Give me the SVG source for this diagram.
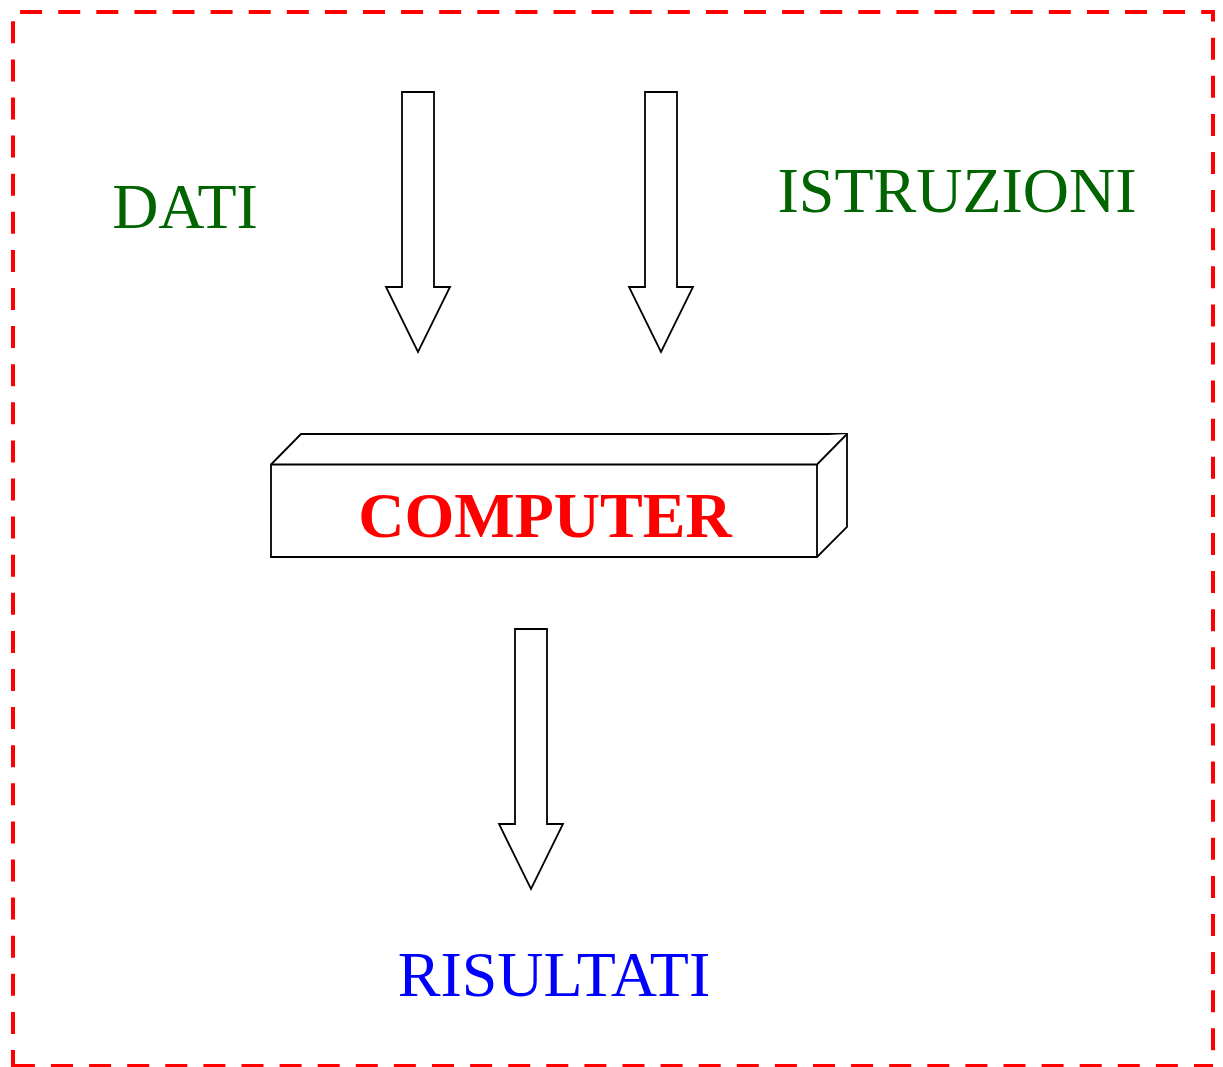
<svg xmlns="http://www.w3.org/2000/svg" width="1223" height="1067" viewBox="0 0 1223 1067">
  <style>
    .frame { stroke: #ff0000; stroke-width: 4; fill: none; stroke-dasharray: 22 16.1; }
    .outline { fill: #ffffff; stroke: #000000; stroke-width: 1.8; stroke-linejoin: miter; }
    .label { font-family: "Liberation Serif", "Times New Roman", serif; font-size: 64px; text-anchor: middle; }
    .input { fill: #006400; }
    .output { fill: #0000ff; }
    .core { fill: #ff0000; font-weight: bold; font-size: 64px; }
  </style>
  <rect width="1223" height="1067" fill="#ffffff"/>

  <!-- dashed boundary, one line per side -->
  <g id="frame">
    <line class="frame" x1="11" y1="12" x2="1215" y2="12" stroke-dashoffset="29"/>
    <line class="frame" x1="1213" y1="12" x2="1213" y2="1066" stroke-dashoffset="12.4"/>
    <line class="frame" x1="1213" y1="1066" x2="11" y2="1066" stroke-dashoffset="3"/>
    <line class="frame" x1="13" y1="1068" x2="13" y2="12" stroke-dashoffset="4"/>
  </g>

  <g id="dati">
    <text class="label input" x="185" y="228">DATI</text>
  </g>

  <g id="istruzioni">
    <text class="label input" x="957" y="212">ISTRUZIONI</text>
  </g>

  <!-- 3D box -->
  <g id="computer">
    <polygon class="outline" points="271,464.5 301,434 847,434 847,527 817,557 271,557"/>
    <polyline class="outline" points="271,464.5 817,464.5 847,434" fill="none"/>
    <line class="outline" x1="817" y1="464.5" x2="817" y2="557"/>
    <text class="label core" x="545" y="537">COMPUTER</text>
  </g>

  <g id="risultati">
    <text class="label output" x="554" y="996">RISULTATI</text>
  </g>

  <!-- block arrows -->
  <g id="connectors">
    <polygon id="arrow-dati" class="outline" points="402,92 434,92 434,287 450,287 418,352 386,287 402,287"/>
    <polygon id="arrow-istruzioni" class="outline" points="645,92 677,92 677,287 693,287 661,352 629,287 645,287"/>
    <polygon id="arrow-risultati" class="outline" points="515,629 547,629 547,824 563,824 531,889 499,824 515,824"/>
  </g>
</svg>
